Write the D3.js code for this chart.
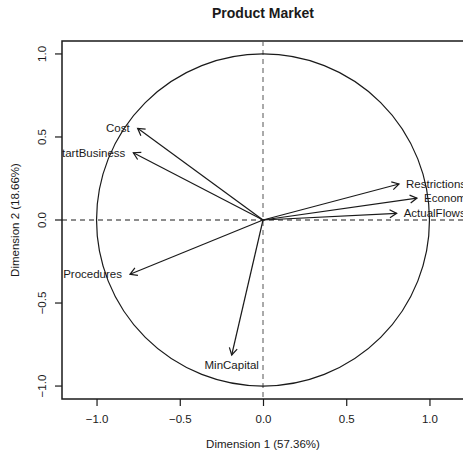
<!DOCTYPE html>
<html>
<head>
<meta charset="utf-8">
<script src="https://cdn.jsdelivr.net/npm/d3@7"></script>
<style>
  body { margin: 0; background: #fff; }
  svg text { font-family: "Liberation Sans", Arial, sans-serif; fill: #1a1a1a; }
</style>
</head>
<body>
<div id="chart"><svg></svg></div>
<script>
// variables factor map (PCA), coordinates on dimensions 1 and 2
const variables = ["Cost", "StartBusiness", "Restrictions", "Economy", "ActualFlows", "Procedures", "MinCapital"];
const dim1 = [-0.753, -0.779, 0.817, 0.925, 0.803, -0.799, -0.188];
const dim2 = [0.552, 0.405, 0.217, 0.132, 0.040, -0.327, -0.813];
const ticks = [-1.0, -0.5, 0.0, 0.5, 1.0];

const W = 463, H = 458;
const box = { left: 62, right: 464, top: 41, bottom: 399 };
const ink = "#1a1a1a";

const svg = d3.select("#chart svg").attr("width", W).attr("height", H);

const x = d3.scaleLinear().domain([-1.2075, 1.2075]).range([box.left, box.right]);
const y = d3.scaleLinear().domain([-1.078, 1.078]).range([box.bottom, box.top]);

svg.append("defs").append("clipPath").attr("id", "plotclip")
  .append("rect")
  .attr("x", box.left).attr("y", box.top)
  .attr("width", box.right - box.left).attr("height", box.bottom - box.top);

// title
svg.append("text")
  .attr("x", x(0)).attr("y", 18)
  .attr("text-anchor", "middle")
  .style("font-size", "14px").style("font-weight", "bold")
  .text("Product Market");

// axes
const xAxis = svg.append("g")
  .attr("transform", `translate(0,${box.bottom})`)
  .call(d3.axisBottom(x).tickValues(ticks).tickFormat(d3.format(".1f")).tickSize(7).tickPadding(9));
const yAxis = svg.append("g")
  .attr("transform", `translate(${box.left},0)`)
  .call(d3.axisLeft(y).tickValues(ticks).tickFormat(d3.format(".1f")).tickSize(7).tickPadding(0));

[xAxis, yAxis].forEach(g => {
  g.select(".domain").remove();
  g.selectAll("line").attr("stroke", ink).attr("stroke-width", 1.2);
  g.selectAll("text").style("font-size", "11.5px").attr("fill", ink)
    .style("font-family", "'Liberation Sans', Arial, sans-serif");
});
yAxis.selectAll("text")
  .attr("text-anchor", "middle")
  .attr("transform", "rotate(-90)")
  .attr("x", 0).attr("dy", 0)
  .each(function (d) {
    d3.select(this).attr("transform", `translate(${41.5 - box.left + 4},${y(d)}) rotate(-90)`).attr("y", 0);
  });
yAxis.selectAll(".tick").attr("transform", "translate(0,0)")
  .select("line").attr("y1", d => y(d)).attr("y2", d => y(d));

// box
svg.append("rect")
  .attr("x", box.left).attr("y", box.top)
  .attr("width", box.right - box.left).attr("height", box.bottom - box.top)
  .attr("fill", "none").attr("stroke", ink).attr("stroke-width", 1.5);

// axis titles
svg.append("text")
  .attr("x", x(0)).attr("y", 448)
  .attr("text-anchor", "middle")
  .style("font-size", "11.5px")
  .text("Dimension 1 (57.36%)");
svg.append("text")
  .attr("transform", `translate(19,${y(0)}) rotate(-90)`)
  .attr("text-anchor", "middle")
  .style("font-size", "11.5px")
  .text("Dimension 2 (18.66%)");

const plot = svg.append("g").attr("clip-path", "url(#plotclip)");

// reference lines
plot.append("line")
  .attr("x1", box.left).attr("x2", box.right).attr("y1", y(0)).attr("y2", y(0))
  .attr("stroke", ink).attr("stroke-width", 1).attr("stroke-dasharray", "5,4");
plot.append("line")
  .attr("x1", x(0)).attr("x2", x(0)).attr("y1", box.top).attr("y2", box.bottom)
  .attr("stroke", "#555").attr("stroke-width", 1).attr("stroke-dasharray", "5,4");

// correlation circle
plot.append("ellipse")
  .attr("cx", x(0)).attr("cy", y(0))
  .attr("rx", x(1) - x(0)).attr("ry", y(0) - y(1))
  .attr("fill", "none").attr("stroke", ink).attr("stroke-width", 1.2);

// arrows
const data = variables.map((name, i) => ({ name, d1: dim1[i], d2: dim2[i] }));
const head = 8, ang = Math.PI / 6;

data.forEach(d => {
  const x0 = x(0), y0 = y(0), x1 = x(d.d1), y1 = y(d.d2);
  const a = Math.atan2(y1 - y0, x1 - x0);
  plot.append("line")
    .attr("x1", x0).attr("y1", y0).attr("x2", x1).attr("y2", y1)
    .attr("stroke", ink).attr("stroke-width", 1.2);
  plot.append("path")
    .attr("d", `M${x1 - head * Math.cos(a - ang)},${y1 - head * Math.sin(a - ang)}L${x1},${y1}L${x1 - head * Math.cos(a + ang)},${y1 - head * Math.sin(a + ang)}`)
    .attr("fill", "none").attr("stroke", ink).attr("stroke-width", 1.2);

  const t = plot.append("text").style("font-size", "11.5px").text(d.name);
  if (Math.abs(d.d2) > Math.abs(d.d1)) {
    t.attr("x", x1).attr("y", y1 + 14).attr("text-anchor", "middle");
  } else if (d.d1 < 0) {
    t.attr("x", x1 - 8).attr("y", y1 + 4).attr("text-anchor", "end");
  } else {
    t.attr("x", x1 + 7).attr("y", y1 + 4).attr("text-anchor", "start");
  }
});
</script>
</body>
</html>
